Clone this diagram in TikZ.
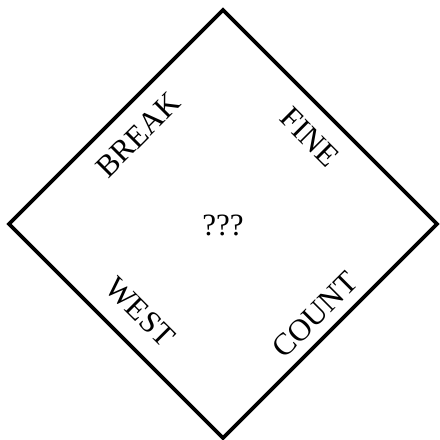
\documentclass[tikz,border=0pt]{standalone}
\usepackage{fontspec}
\setmainfont{Liberation Serif}
\tikzset{
    frame/.style={line width=1.8pt, line join=miter},
    word/.style={font=\fontsize{15.5}{17}\selectfont, inner sep=0pt},
}
\begin{document}
\begin{tikzpicture}[x=0.5pt, y=-0.5pt]
\useasboundingbox (0,0) rectangle (440,440);

% corners of the diamond
\coordinate (top) at (223,10);
\coordinate (rgt) at (437,224);
\coordinate (bot) at (223,438);
\coordinate (lft) at (9,224);

\draw[frame] (top) -- (rgt) -- (bot) -- (lft) -- cycle;

\node[word] (quest) at (223,225) {???};

% one word along each side
\node[word, rotate=45] (brk) at (138,135) {BREAK};
\node[word, rotate=-45] (fine) at (310,137) {FINE};
\node[word, rotate=-45] (west) at (140,312) {WEST};
\node[word, rotate=45] (count) at (315,315) {COUNT};

\end{tikzpicture}
\end{document}
